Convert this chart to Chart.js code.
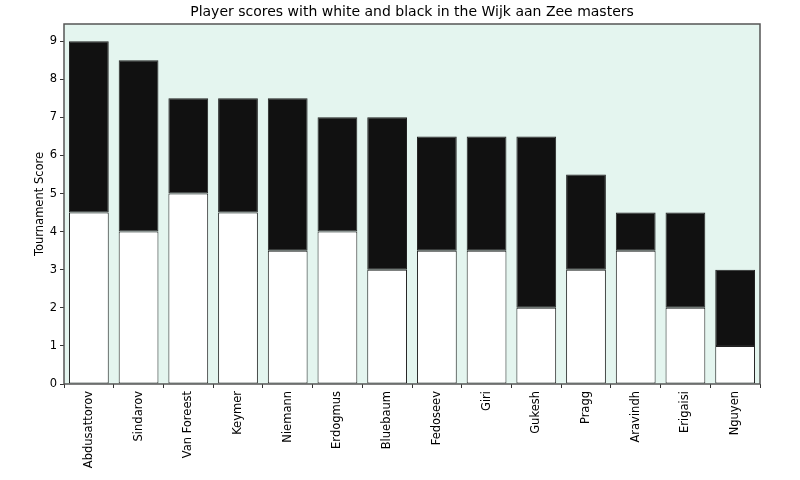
<!DOCTYPE html>
<html><head><meta charset="utf-8">
<script src="https://cdn.jsdelivr.net/npm/chart.js@4"></script>
<style>html,body{margin:0;padding:0;background:#fff}#w{width:800px;height:480px}</style>
</head><body><div id="w"><canvas id="c" width="800" height="480"></canvas></div>
<script>
const players = ["Abdusattorov","Sindarov","Van Foreest","Keymer","Niemann","Erdogmus","Bluebaum","Fedoseev","Giri","Gukesh","Pragg","Aravindh","Erigaisi","Nguyen"];
const whiteScores = [4.5,4,5,4.5,3.5,4,3,3.5,3.5,2,3,3.5,2,1];
const blackScores = [4.5,4.5,2.5,3,4,3,4,3,3,4.5,2.5,1,2.5,2];
const yTicks = [0,1,2,3,4,5,6,7,8,9];
const titleText = 'Player scores with white and black in the Wijk aan Zee masters';

const bgPlugin = {
  id:'bg',
  beforeDraw(chart){
    const {ctx, chartArea:a} = chart;
    ctx.save(); ctx.fillStyle='#e4f5ef'; ctx.fillRect(a.left,a.top,a.right-a.left,a.bottom-a.top); ctx.restore();
  },
  afterDraw(chart){
    const {ctx, chartArea:a} = chart;
    ctx.save(); ctx.strokeStyle='#555'; ctx.lineWidth=1.5;
    ctx.strokeRect(a.left,a.top,a.right-a.left,a.bottom-a.top);
    ctx.fillStyle='#000'; ctx.font="14px 'DejaVu Sans', sans-serif"; ctx.textAlign='center'; ctx.textBaseline='middle';
    ctx.fillText(titleText,(a.left+a.right)/2,12);
    ctx.restore();
  }
};
Chart.defaults.font.family = "'DejaVu Sans', sans-serif";
Chart.defaults.color = '#000';
new Chart(document.getElementById('c'), {
  type:'bar',
  data:{labels:players, datasets:[
    {label:'White', data:whiteScores, backgroundColor:'#ffffff', borderColor:'#222', borderWidth:1, borderSkipped:false},
    {label:'Black', data:blackScores, backgroundColor:'#111111', borderColor:'#222', borderWidth:1, borderSkipped:false}
  ]},
  options:{
    responsive:false, animation:false, devicePixelRatio:1,
    layout:{padding:{left:30,right:40,top:24,bottom:0}},
    datasets:{bar:{barPercentage:0.8, categoryPercentage:1}},
    plugins:{
      legend:{display:false}, tooltip:{enabled:false}, title:{display:false}
    },
    scales:{
      x:{stacked:true,
        afterFit(s){s.height=96;},
        grid:{display:true, drawOnChartArea:false, drawTicks:true, tickLength:4, color:'#333'},
        border:{display:false},
        ticks:{minRotation:90, maxRotation:90, font:{size:11.5}, padding:3, color:'#000'}
      },
      y:{stacked:true, min:0, max:9.45,
        afterFit(s){s.width=34;},
        afterBuildTicks(s){s.ticks = yTicks.map(v=>({value:v}));},
        grid:{display:true, drawOnChartArea:false, drawTicks:true, tickLength:4, color:'#333'},
        border:{display:false},
        ticks:{font:{size:11.5}, padding:3, color:'#000'},
        title:{display:true, text:'Tournament Score', font:{size:11.5}, padding:{top:3,bottom:0}, color:'#000'}
      }
    }
  },
  plugins:[bgPlugin]
});
</script></body></html>
